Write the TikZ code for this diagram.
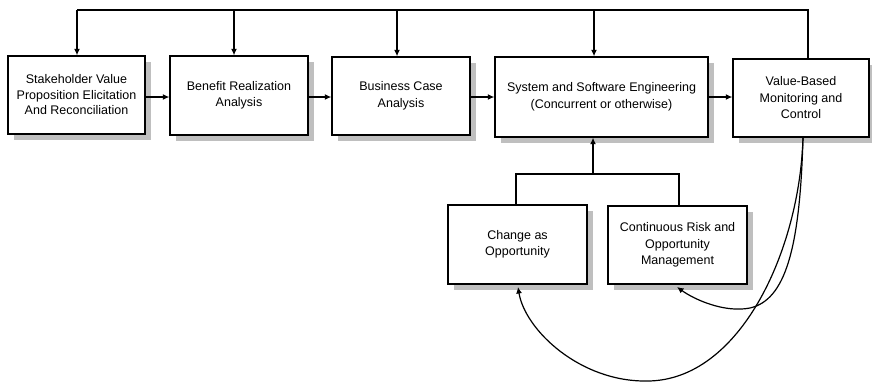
\documentclass[tikz,border=0pt]{standalone}
\usepackage{fontspec}
\setmainfont{Liberation Sans}
\usetikzlibrary{arrows.meta,calc}
\begin{document}
\begin{tikzpicture}[x=1pt,y=-1pt,
  box/.style={draw=black,line width=1.4pt,fill=white,rectangle,align=center,
    font=\fontsize{12.5}{16.5}\selectfont,inner sep=1pt},
  arr/.style={line width=1.2pt,-{Latex[length=6.5pt,width=6pt]}},
  ln/.style={line width=1.2pt},
  shadowc/.style={fill=black!25}]
\useasboundingbox (0,0) rectangle (872,383);
% shadows
\foreach \a/\b/\c/\d in {8/56/145/134, 170/56/308/135, 332/57/470/135, 495/57/708/137, 733/59/869/137, 448/205/587/284, 608/206/747/284}{
  \fill[shadowc] (\a+6,\b+6) rectangle (\c+6,\d+6);
}
\node[box,minimum width=137pt,minimum height=78pt] (b1) at (76.5,95) {Stakeholder Value\\[-1pt]Proposition Elicitation\\[-1pt]And Reconciliation};
\node[box,minimum width=138pt,minimum height=79pt] (b2) at (239,95.5) {Benefit Realization\\Analysis};
\node[box,minimum width=138pt,minimum height=78pt] (b3) at (401,96) {Business Case\\Analysis};
\node[box,minimum width=213pt,minimum height=80pt] (b4) at (601.5,97) {System and Software Engineering\\(Concurrent or otherwise)};
\node[box,minimum width=136pt,minimum height=78pt] (b5) at (801,98) {Value-Based\\Monitoring and\\Control};
\node[box,minimum width=139pt,minimum height=79pt] (c1) at (517.5,244.5) {Change as\\Opportunity};
\node[box,minimum width=139pt,minimum height=78pt] (c2) at (677.5,245) {Continuous Risk and\\Opportunity\\Management};
% top feedback line
\coordinate (tr) at (808,10);
\coordinate (tl) at (77,10);
\coordinate (t2) at (234,10);
\coordinate (t3) at (397,10);
\coordinate (t4) at (594,10);
\draw[ln] (tr |- b5.north) -- (tr) -- (tl);
\draw[arr] (tl) -- (tl |- b1.north);
\draw[arr] (t2) -- (t2 |- b2.north);
\draw[arr] (t3) -- (t3 |- b3.north);
\draw[arr] (t4) -- (t4 |- b4.north);
% horizontal flow
\coordinate (hy) at (0,97);
\draw[arr] (b1.east |- hy) -- (b2.west |- hy);
\draw[arr] (b2.east |- hy) -- (b3.west |- hy);
\draw[arr] (b3.east |- hy) -- (b4.west |- hy);
\draw[arr] (b4.east |- hy) -- (b5.west |- hy);
% bracket from lower boxes
\coordinate (bm) at (593,174);
\coordinate (bl) at (516,174);
\coordinate (br) at (679,174);
\draw[ln] (bl |- c1.north) -- (bl) -- (br) -- (br |- c2.north);
\draw[arr] (bm) -- (bm |- b4.south);
% curves
\coordinate (cs) at (803,137);
\coordinate (e1) at (677,287);
\coordinate (e2) at (518,287);
\draw[arr] (cs) .. controls (800,250) and (785,300) .. (750,308)
  .. controls (725,313) and (695,300) .. (e1);
\draw[arr] (cs) .. controls (800,250) and (740,381) .. (647,381)
  .. controls (580,382) and (525,330) .. (e2);
\end{tikzpicture}
\end{document}
